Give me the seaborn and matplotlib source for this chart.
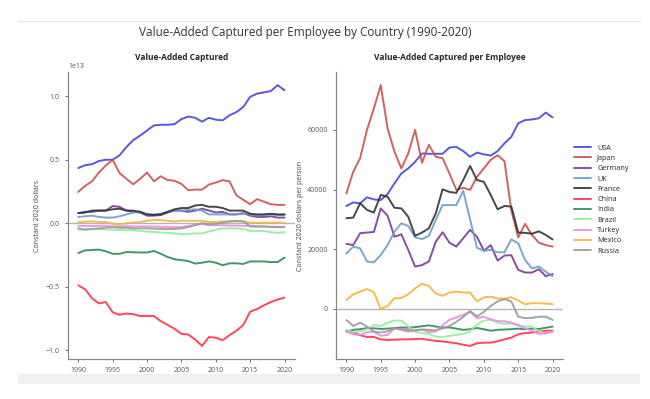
import matplotlib
matplotlib.use("Agg")
import matplotlib.pyplot as plt
from matplotlib.lines import Line2D
from matplotlib.patches import Rectangle
import seaborn as sns
import pandas as pd
import numpy as np

years = list(range(1990, 2021))
countries = ["USA", "Japan", "Germany", "UK", "France", "China",
             "India", "Brazil", "Turkey", "Mexico", "Russia"]
colors = ["#4646dc", "#c8534f", "#7a3a96", "#6a9fc6", "#333333", "#ff3347",
          "#2e8b57", "#90ee98", "#ee8ae6", "#f5b43c", "#9a9a9a"]

# value-added captured, units of 1e13 constant 2020 dollars
va_usa = [0.435, 0.457, 0.465, 0.49, 0.50, 0.50, 0.535, 0.60, 0.655, 0.69, 0.73,
          0.77, 0.775, 0.775, 0.78, 0.82, 0.84, 0.83, 0.80, 0.83, 0.815, 0.81,
          0.85, 0.875, 0.915, 0.995, 1.02, 1.03, 1.04, 1.087, 1.047]
va_japan = [0.247, 0.295, 0.33, 0.40, 0.455, 0.50, 0.395, 0.35, 0.307, 0.35, 0.40,
            0.33, 0.37, 0.34, 0.335, 0.31, 0.26, 0.265, 0.265, 0.305, 0.32, 0.34,
            0.33, 0.22, 0.185, 0.15, 0.19, 0.17, 0.15, 0.145, 0.145]
va_germany = [0.08, 0.09, 0.09, 0.10, 0.10, 0.135, 0.13, 0.10, 0.09, 0.085, 0.06,
              0.06, 0.065, 0.085, 0.10, 0.10, 0.09, 0.10, 0.115, 0.10, 0.085, 0.09,
              0.07, 0.07, 0.08, 0.06, 0.05, 0.05, 0.055, 0.045, 0.045]
va_uk = [0.05, 0.055, 0.06, 0.05, 0.045, 0.045, 0.055, 0.07, 0.085, 0.09, 0.07,
         0.07, 0.075, 0.09, 0.10, 0.10, 0.105, 0.11, 0.10, 0.07, 0.07, 0.07,
         0.07, 0.07, 0.075, 0.07, 0.06, 0.065, 0.07, 0.065, 0.065]
va_france = [0.08, 0.085, 0.10, 0.10, 0.10, 0.11, 0.115, 0.10, 0.10, 0.09, 0.07,
             0.065, 0.07, 0.09, 0.11, 0.12, 0.12, 0.14, 0.145, 0.13, 0.13, 0.12,
             0.10, 0.10, 0.10, 0.075, 0.07, 0.07, 0.075, 0.07, 0.07]
va_china = [-0.488, -0.52, -0.59, -0.63, -0.62, -0.70, -0.72, -0.71, -0.715, -0.73, -0.73,
            -0.73, -0.77, -0.80, -0.83, -0.87, -0.875, -0.915, -0.965, -0.895, -0.90, -0.92,
            -0.88, -0.845, -0.80, -0.695, -0.675, -0.645, -0.62, -0.60, -0.585]
va_india = [-0.234, -0.213, -0.21, -0.207, -0.22, -0.24, -0.24, -0.226, -0.228, -0.23, -0.23,
            -0.218, -0.24, -0.265, -0.283, -0.29, -0.297, -0.317, -0.31, -0.30, -0.31, -0.33,
            -0.315, -0.315, -0.32, -0.30, -0.30, -0.30, -0.305, -0.305, -0.27]
va_brazil = [-0.05, -0.048, -0.045, -0.047, -0.05, -0.05, -0.052, -0.055, -0.055, -0.06, -0.065,
             -0.068, -0.072, -0.075, -0.08, -0.085, -0.083, -0.08, -0.08, -0.065, -0.05, -0.04,
             -0.04, -0.04, -0.045, -0.06, -0.06, -0.06, -0.07, -0.075, -0.07]
va_turkey = [-0.02, -0.022, -0.022, -0.02, -0.02, -0.025, -0.025, -0.022, -0.025, -0.025, -0.025,
             -0.025, -0.028, -0.028, -0.03, -0.03, -0.02, -0.012, -0.005, -0.015, -0.015, -0.015,
             -0.018, -0.018, -0.02, -0.02, -0.025, -0.025, -0.028, -0.03, -0.03]
va_mexico = [0.01, 0.012, 0.015, 0.012, 0.01, -0.005, -0.01, 0.0, 0.005, 0.01, 0.02,
             0.025, 0.025, 0.02, 0.015, 0.02, 0.02, 0.02, 0.02, 0.01, 0.01, 0.015,
             0.015, 0.015, 0.015, 0.005, 0.003, 0.005, 0.005, 0.005, 0.005]
va_russia = [-0.04, -0.05, -0.045, -0.04, -0.035, -0.03, -0.035, -0.035, -0.04, -0.04, -0.04,
             -0.042, -0.045, -0.045, -0.045, -0.04, -0.03, -0.015, 0.0, -0.01, -0.005, 0.005,
             0.015, 0.02, 0.015, -0.025, -0.025, -0.025, -0.028, -0.028, -0.03]

# value-added captured per employee, constant 2020 dollars per person
pe_usa = [34500, 35700, 35400, 37400, 36700, 36500, 38500, 42100, 45400, 47100, 49300,
          52100, 52000, 52000, 52000, 54100, 54300, 52900, 51000, 52400, 51800, 51400,
          52900, 55500, 57700, 62200, 63300, 63500, 63900, 65800, 64200]
pe_japan = [38700, 46000, 50500, 60000, 67200, 75000, 60500, 52700, 47100, 52100, 60000,
            49000, 55000, 51000, 50500, 45400, 39900, 40600, 39900, 44300, 47100, 50000,
            51500, 49500, 33000, 24000, 28500, 24800, 22200, 21400, 20900]
pe_germany = [21800, 21400, 25400, 25600, 25800, 33700, 31200, 24200, 25000, 19800, 14200,
              14700, 15900, 22500, 25700, 22200, 20900, 23700, 26500, 24200, 19500, 21400,
              16200, 17900, 18000, 13100, 12200, 12200, 13300, 11000, 11700]
pe_uk = [18600, 20900, 20300, 15900, 15600, 18100, 21400, 25900, 28700, 27800, 24000,
         23400, 24500, 29800, 34800, 34800, 34800, 39600, 30000, 20500, 19500, 19800,
         19000, 19000, 23300, 22000, 16400, 13600, 14200, 12500, 11000]
pe_france = [30400, 30600, 35400, 33200, 32300, 38200, 37600, 33900, 33700, 30900, 24500,
             25600, 27000, 32000, 40100, 39200, 38900, 43200, 47900, 43200, 42600, 38200,
             33400, 34500, 34300, 25600, 25500, 25200, 26000, 24800, 23300]
pe_china = [-7300, -8000, -8800, -9400, -9400, -10200, -10400, -10300, -10200, -10200, -10100,
            -10000, -10400, -10700, -10900, -11200, -11500, -12000, -12400, -11500, -11300, -11300,
            -10800, -10200, -9600, -8500, -8100, -7900, -7600, -7300, -7300]
pe_india = [-7600, -7000, -6800, -6400, -6500, -6700, -6600, -6400, -6200, -6300, -6100,
            -5800, -5500, -5900, -6200, -6200, -6600, -7000, -6800, -6400, -6800, -7300,
            -7000, -6900, -6800, -6600, -6800, -6600, -6700, -6300, -5900]
pe_brazil = [-7000, -7800, -7600, -6800, -5400, -5700, -4600, -3900, -3900, -5900, -7600,
             -8100, -8400, -9300, -9500, -9000, -8700, -8400, -7500, -5200, -3900, -3600,
             -4600, -5000, -4900, -5500, -5900, -5900, -7500, -8200, -7600]
pe_turkey = [-7600, -8500, -8700, -7800, -7600, -9000, -8700, -6500, -7000, -7600, -7200,
             -6900, -7800, -7600, -5400, -3700, -2800, -2000, -900, -3100, -2600, -3500,
             -4100, -4100, -4600, -5400, -6500, -7300, -8400, -8200, -7600]
pe_mexico = [3000, 4900, 5800, 6700, 5600, 0, 1000, 3600, 3600, 4900, 6900,
             8400, 7700, 5200, 4400, 5500, 5800, 5500, 5500, 2500, 3900, 4100,
             3500, 3400, 3900, 2800, 1600, 1900, 1900, 1800, 1600]
pe_russia = [-3700, -5700, -4600, -5900, -7600, -7900, -7500, -6500, -6800, -7100, -7200,
             -6900, -7000, -7200, -6500, -5700, -4300, -2700, -700, -2500, -1000, 1000,
             2500, 3300, 2500, -2600, -3100, -3000, -2600, -2600, -3700]

va_series = [va_usa, va_japan, va_germany, va_uk, va_france, va_china,
             va_india, va_brazil, va_turkey, va_mexico, va_russia]
pe_series = [pe_usa, pe_japan, pe_germany, pe_uk, pe_france, pe_china,
             pe_india, pe_brazil, pe_turkey, pe_mexico, pe_russia]

rows = []
for c, va, pe in zip(countries, va_series, pe_series):
    for y, v, p in zip(years, va, pe):
        rows.append({"Year": y, "Country": c, "VA": v * 1e13, "PerEmp": p})
df = pd.DataFrame(rows)
palette = dict(zip(countries, colors))

sns.set_theme(style="ticks")
plt.rcParams["font.family"] = ["Open Sans", "DejaVu Sans"]

fig = plt.figure(figsize=(6.5, 3.99), dpi=100, facecolor="white")
ax1 = fig.add_axes([0.1046, 0.1003, 0.349, 0.719])
ax2 = fig.add_axes([0.517, 0.1003, 0.349, 0.719])

sns.lineplot(data=df, x="Year", y="VA", hue="Country", palette=palette,
             hue_order=countries, linewidth=1.4, alpha=0.9, ax=ax1, legend=False)
sns.lineplot(data=df, x="Year", y="PerEmp", hue="Country", palette=palette,
             hue_order=countries, linewidth=1.4, alpha=0.9, ax=ax2)

for ax in (ax1, ax2):
    ax.axhline(0, color="#b5b5b5", linewidth=1.0, zorder=0)
    ax.set_xticks(range(1990, 2021, 5))
    ax.tick_params(labelsize=5, colors="#555555", length=2.5, width=0.6)
    for s in ("left", "bottom"):
        ax.spines[s].set_color("#888888")
        ax.spines[s].set_linewidth(0.9)
    ax.set_xlabel("")
sns.despine(fig=fig)

ax1.set_title("Value-Added Captured", fontsize=6, fontweight="bold", pad=9)
ax2.set_title("Value-Added Captured per Employee", fontsize=6, fontweight="bold", pad=9)
ax1.set_ylabel("Constant 2020 dollars", fontsize=5, color="#444444", labelpad=3)
ax2.set_ylabel("Constant 2020 dollars per person", fontsize=5, color="#444444", labelpad=2)
ax1.set_yticks([-1.0e13, -0.5e13, 0, 0.5e13, 1.0e13])
ax1.yaxis.get_offset_text().set_fontsize(5)
ax1.yaxis.get_offset_text().set_color("#555555")
ax2.set_yticks([0, 20000, 40000, 60000])

leg = ax2.legend(loc="upper left", bbox_to_anchor=(1.02, 0.77), frameon=False,
                 fontsize=5.2, handlelength=2.4, labelspacing=0.45, title=None)
for line in leg.get_lines():
    line.set_linewidth(1.4)

fig.suptitle("Value-Added Captured per Employee by Country (1990-2020)",
             fontsize=8.5, color="#333333", x=0.47, y=0.935)

# screenshot-style frame pieces
fig.add_artist(Line2D([18 / 650, 640 / 650], [1 - 21 / 399, 1 - 21 / 399],
                      color="#e6e6e6", linewidth=1.0, transform=fig.transFigure))
fig.add_artist(Rectangle((18 / 650, 1 - 384 / 399), 622 / 650, 10 / 399,
                         facecolor="#f0f0f0", edgecolor="none", transform=fig.transFigure))

fig.savefig("out.png", dpi=100, facecolor="white")
plt.close(fig)
